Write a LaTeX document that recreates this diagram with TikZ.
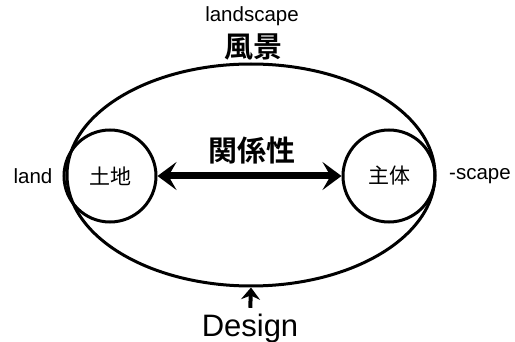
\documentclass[tikz,border=0pt]{standalone}
\usepackage{fontspec}
\setmainfont{Liberation Sans}
\newfontfamily\jp[BoldFont={Noto Sans CJK JP Bold}]{Noto Sans CJK JP}
\usetikzlibrary{arrows.meta,shapes.geometric}

\begin{document}
\begin{tikzpicture}
            [x=1pt,y=-1pt,
             en/.style={font=\fontsize{20.5}{24}\selectfont},
             ja/.style={font=\jp\fontsize{21}{24}\selectfont},
             jab/.style={font=\jp\bfseries\fontsize{29}{32}\selectfont},
             ring/.style={circle,draw,line width=3pt,minimum size=92pt,inner sep=0pt},
             bigtip/.tip={Stealth[length=19pt,width=28pt,inset=8pt]}]
            \useasboundingbox (0,0) rectangle (515,342);
            \node[ellipse,draw,line width=3pt,minimum width=368pt,minimum height=222pt,inner sep=0pt](scape) at (251,175) {};
            \node[ring,ja](land) at (110,176) {土地};
            \node[ring,ja](self) at (389,176) {主体};
            \node[en](landtext) at (33,176) {land};
            \node[en](scapetext) at (480,176) {-scape};
            \node[en](title) at (252,16) {landscape};
            \node[jab](fukei) at (253,47) {風景};
            \node[jab](rel) at (252,150) {関係性};
            \node[font=\fontsize{31}{34}\selectfont,inner sep=0pt,text height=22pt,anchor=base](design) at (250,337) {Design};
            \draw[line width=7pt,bigtip-bigtip](land) -- (self);
            \draw[line width=4pt,-{Stealth[length=12pt,width=19pt,inset=4pt]},shorten <=7pt](design.north) -- (scape.south);
        \end{tikzpicture}
\end{document}
